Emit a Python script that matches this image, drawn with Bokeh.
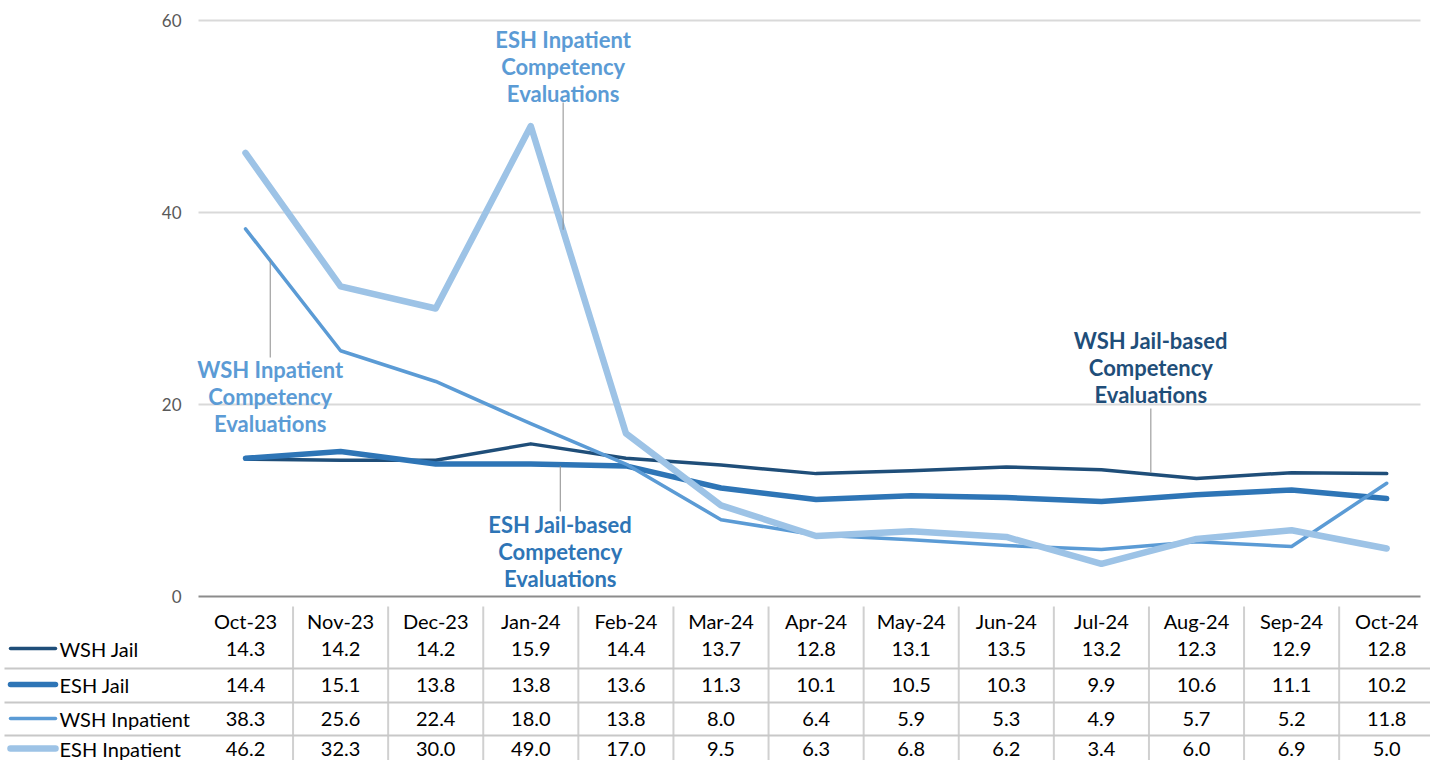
from bokeh.plotting import figure
from bokeh.models import Range1d
from bokeh.core.properties import value
from bokeh.embed import file_html
from bokeh.resources import INLINE

months = ["Oct-23", "Nov-23", "Dec-23", "Jan-24", "Feb-24", "Mar-24", "Apr-24",
          "May-24", "Jun-24", "Jul-24", "Aug-24", "Sep-24", "Oct-24"]
wsh_jail = [14.3, 14.2, 14.2, 15.9, 14.4, 13.7, 12.8, 13.1, 13.5, 13.2, 12.3, 12.9, 12.8]
esh_jail = [14.4, 15.1, 13.8, 13.8, 13.6, 11.3, 10.1, 10.5, 10.3, 9.9, 10.6, 11.1, 10.2]
wsh_inpatient = [38.3, 25.6, 22.4, 18.0, 13.8, 8.0, 6.4, 5.9, 5.3, 4.9, 5.7, 5.2, 11.8]
esh_inpatient = [46.2, 32.3, 30.0, 49.0, 17.0, 9.5, 6.3, 6.8, 6.2, 3.4, 6.0, 6.9, 5.0]
series_names = ["WSH Jail", "ESH Jail", "WSH Inpatient", "ESH Inpatient"]
y_ticks = [0, 20, 40, 60]

series = [wsh_jail, esh_jail, wsh_inpatient, esh_inpatient]
colors = ["#1F4E79", "#2E75B6", "#5B9BD5", "#9DC3E6"]
widths = [3.5, 5.5, 3.5, 6.5]
FONT = "Lato"

xs = list(range(len(months)))

# ---- layout geometry (canvas pixels) ----
W, H = 1430, 760
X0_PX, PPU_X = 245.0, 95.1          # pixel of first category, pixels per category
TOP_PX, ZERO_PX = 20.0, 596.0       # pixel of y=60 and y=0
PPU_Y = (ZERO_PX - TOP_PX) / 60.0

def px(p):   # canvas x pixel -> data x
    return (p - X0_PX) / PPU_X

def py(p):   # canvas y pixel -> data y
    return (ZERO_PX - p) / PPU_Y

p = figure(width=W, height=H, x_range=Range1d(px(0), px(W)), y_range=Range1d(py(H), py(0)),
           output_backend="svg", toolbar_location=None, min_border=0)
p.outline_line_color = None
p.axis.visible = False
p.grid.visible = False

CX0, CX1 = px(198), px(1420)        # chart plot area horizontal extent

# gridlines and axis baseline
gt = [t for t in y_ticks if t > 0]
p.segment([CX0] * len(gt), gt, [CX1] * len(gt), gt, line_color="#D9D9D9", line_width=2)
p.segment([CX0], [0], [CX1], [0], line_color="#8C8C8C", line_width=2)
p.text([px(181)] * len(y_ticks), y_ticks, text=[str(t) for t in y_ticks],
       text_font=value(FONT), text_font_size="17px", text_color="#595959",
       text_align="right", text_baseline="middle")

for ys, c, w in zip(series, colors, widths):
    p.line(xs, ys, line_color=c, line_width=w, line_join="round", line_cap="round")

# annotations: (text, x, y_center, color, leader x, leader y0, leader y1)
annots = [
    ("ESH Inpatient\nCompetency\nEvaluations", 3.34, py(66), "#5B9BD5", 3.34, py(102), 38.2),
    ("WSH Inpatient\nCompetency\nEvaluations", 0.26, py(396), "#5B9BD5", 0.26, py(357), 35.0),
    ("WSH Jail-based\nCompetency\nEvaluations", 9.52, py(367), "#1F4E79", 9.52, py(408), 12.9),
    ("ESH Jail-based\nCompetency\nEvaluations", 3.31, py(551), "#2E75B6", 3.31, 13.6, py(511)),
]
for t, x, y, c, lx, ly0, ly1 in annots:
    p.segment([lx], [ly0], [lx], [ly1], line_color="#8C8C8C", line_width=1)
    p.text([x], [y], text=[t], text_color=c, text_font=value(FONT), text_font_style="bold",
           text_font_size="22px", text_align="center", text_baseline="middle",
           text_line_height=1.0)

# ---- data table ----
header_y = py(620)
row_y = [py(648), py(684), py(718), py(748)]
sep_y = [py(668), py(702), py(735)]

vx = [i + 0.5 for i in range(len(months) - 1)]
p.segment(vx, [py(606)] * len(vx), vx, [py(H)] * len(vx), line_color="#D0D0D0", line_width=2)
p.segment([px(4)] * 3, sep_y, [px(W)] * 3, sep_y, line_color="#C8C8C8", line_width=2)

p.text(xs, [header_y] * len(xs), text=months, text_font=value(FONT), text_font_size="20px",
       text_color="#000000", text_align="center", text_baseline="middle")

for ys, name, c, w, ry in zip(series, series_names, colors, widths, row_y):
    p.segment([px(10)], [ry], [px(55)], [ry], line_color=c, line_width=w, line_cap="round")
    p.text([px(59)], [ry], text=[name], text_font=value(FONT), text_font_size="20px",
           text_color="#000000", text_align="left", text_baseline="middle")
    p.text(xs, [ry] * len(xs), text=[f"{v:.1f}" for v in ys], text_font=value(FONT),
           text_font_size="20px", text_color="#000000", text_align="center",
           text_baseline="middle")

open("out.html", "w").write(file_html(p, INLINE))
